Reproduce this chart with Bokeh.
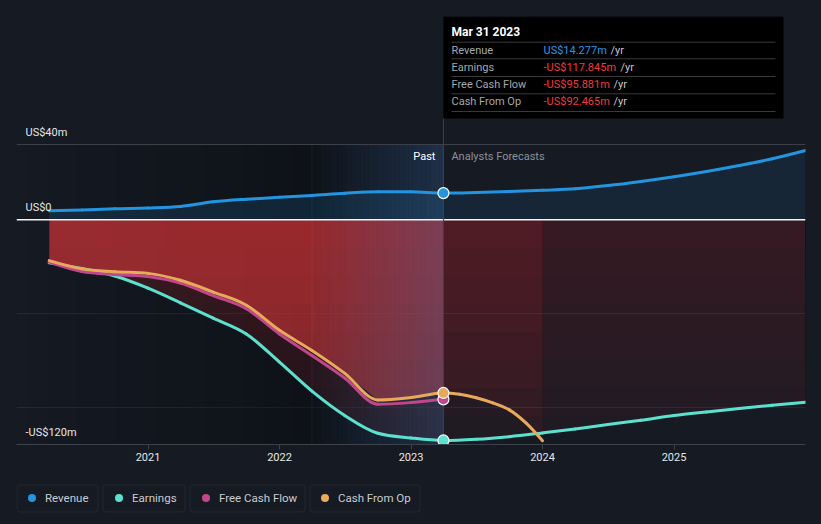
import numpy as np
import pandas as pd
from bokeh.plotting import figure
from bokeh.layouts import column
from bokeh.models import Range1d, FixedTicker, Grid, BoxAnnotation
from bokeh.core.properties import value
from bokeh.embed import file_html
from bokeh.resources import INLINE

# ---------------- data (US$ millions, trailing twelve months) ----------------
past_dates = ["2020-03-31", "2020-06-30", "2020-09-30", "2020-12-31", "2021-03-31",
              "2021-06-30", "2021-09-30", "2021-12-31", "2022-03-31", "2022-06-30",
              "2022-09-30", "2022-12-31", "2023-03-31"]
revenue_past = [4.8, 5.3, 5.9, 6.3, 7.1, 9.6, 11.0, 12.0, 13.0, 14.2, 15.0, 15.0, 14.277]
earnings_past = [-23.0, -26.0, -30.0, -36.5, -44.3, -52.5, -61.0, -76.0, -91.5, -104.5,
                 -114.0, -116.5, -117.845]
fcf_past = [-22.6, -27.6, -29.2, -30.3, -33.8, -40.5, -47.5, -61.0, -72.5, -84.5,
            -98.5, -97.6, -95.881]
cfo_past = [-21.8, -26.2, -27.7, -28.6, -32.3, -38.6, -45.6, -59.0, -69.8, -82.0,
            -96.2, -94.9, -92.465]

fc_dates = ["2023-03-31", "2023-06-30", "2023-09-30", "2023-12-31", "2024-03-31",
            "2024-06-30", "2024-09-30", "2024-12-31", "2025-03-31", "2025-06-30",
            "2025-09-30", "2025-12-31"]
revenue_fc = [14.277, 14.6, 15.1, 15.8, 16.6, 18.3, 20.5, 23.0, 25.8, 29.0, 32.6, 37.0]
earnings_fc = [-117.845, -117.2, -115.8, -113.8, -111.7, -109.3, -107.0, -104.5,
               -102.6, -100.8, -99.0, -97.4]

cfo_fc_dates = ["2023-03-31", "2023-05-15", "2023-06-30", "2023-08-15", "2023-09-30",
                "2023-11-15", "2023-12-31"]
cfo_fc = [-92.465, -93.2, -95.0, -97.8, -101.5, -108.5, -118.0]

series_names = ["Revenue", "Earnings", "Free Cash Flow", "Cash From Op"]
series_colors = ["#2394df", "#5ce1cf", "#c2468e", "#e8aa5a"]
x_tick_years = [2021, 2022, 2023, 2024, 2025]
y_label_values = [40, 0, -120]
y_label_texts = ["US$40m", "US$0", "-US$120m"]
tooltip_title = "Mar 31 2023"

# ---------------- helpers ----------------
def dec_year(dates):
    d = pd.to_datetime(pd.Series(dates))
    days = np.where(d.dt.is_leap_year, 366.0, 365.0)
    return (d.dt.year + d.dt.dayofyear / days).to_numpy()

xp = dec_year(past_dates)
xf = dec_year(fc_dates)
xc = dec_year(cfo_fc_dates)
t_now = xp[-1]
past_start = dec_year(["2022-03-31"])[0]

BG = "#151a23"
FONT = value("Roboto")
X0, X1 = 2020.0, 2026.0
Y0, Y1 = -120.0, 108.6

# page-pixel -> data helpers for layout-only decorations (frame: x 16..805, y 16..444)
def px_x(px):
    return X0 + (px - 16) * (X1 - X0) / 789.0

def px_y(py):
    return Y1 - (py - 16) * (Y1 - Y0) / 428.0

def monotone_bezier(x, y):
    """Control points of a monotone-x cubic curve through the data points."""
    x = np.asarray(x, float)
    y = np.asarray(y, float)
    h = np.diff(x)
    s = np.diff(y) / h
    m = np.zeros_like(y)
    for i in range(1, len(y) - 1):
        s0, s1 = s[i - 1], s[i]
        pp = (s0 * h[i] + s1 * h[i - 1]) / (h[i - 1] + h[i])
        m[i] = (np.sign(s0) + np.sign(s1)) * min(abs(s0), abs(s1), 0.5 * abs(pp))
    m[0] = (3 * s[0] - m[1]) / 2 if len(y) > 2 else s[0]
    m[-1] = (3 * s[-1] - m[-2]) / 2 if len(y) > 2 else s[-1]
    return dict(x0=x[:-1], y0=y[:-1], x1=x[1:], y1=y[1:],
                cx0=x[:-1] + h / 3, cy0=y[:-1] + m[:-1] * h / 3,
                cx1=x[1:] - h / 3, cy1=y[1:] - m[1:] * h / 3)

p = figure(width=805, height=470, x_range=Range1d(X0, X1), y_range=Range1d(Y0, Y1),
           output_backend="svg", toolbar_location=None, y_axis_location=None,
           min_border_left=8, min_border_right=8, min_border_top=8, min_border_bottom=34)
p.background_fill_color = BG
p.border_fill_color = BG
p.outline_line_color = None

# grids
p.xgrid.visible = False
p.ygrid.ticker = FixedTicker(ticks=[y_label_values[0]])
p.ygrid.grid_line_color = "#3b4049"
g2 = Grid(dimension=1, ticker=FixedTicker(ticks=[-50, -100]), grid_line_color="#252a32")
p.add_layout(g2)

# x axis
p.xaxis.ticker = FixedTicker(ticks=x_tick_years)
p.xaxis.axis_line_color = "#3d424a"
p.xaxis.major_tick_line_color = "#3d424a"
p.xaxis.major_tick_in = 0
p.xaxis.major_tick_out = 5
p.xaxis.minor_tick_line_color = None
p.xaxis.major_label_text_color = "#e6e6e6"
p.xaxis.major_label_text_font = "Roboto"
p.xaxis.major_label_text_font_size = "11px"
p.xaxis.major_label_standoff = 3

# darkening of the past background
n = 30
e = np.linspace(X0, past_start, n + 1)
p.quad(left=e[:-1], right=e[1:], top=y_label_values[0], bottom=Y0, fill_color="black",
       fill_alpha=list(np.linspace(0.0, 0.3, n)), line_alpha=0)
p.quad(left=[past_start], right=[t_now], top=[y_label_values[0]], bottom=[Y0],
       fill_color="black", fill_alpha=0.3, line_alpha=0)

# revenue area
p.varea(x=xp, y1=0, y2=revenue_past, fill_color=series_colors[0], fill_alpha=0.15)
p.varea(x=xf, y1=0, y2=revenue_fc, fill_color=series_colors[0], fill_alpha=0.1)

def grad_fill(x, y, color, base, each, levels=8):
    y = np.asarray(y)
    p.varea(x=x, y1=0, y2=y, fill_color=color, fill_alpha=base)
    for L in np.linspace(0, Y0, levels + 1)[1:]:
        p.varea(x=x, y1=0, y2=np.maximum(y, L), fill_color=color, fill_alpha=each)

RED = "#e23a3e"
grad_fill(xp, earnings_past, RED, 0.08, 0.02)
grad_fill(xf, earnings_fc, RED, 0.04, 0.015)
grad_fill(xc, cfo_fc, RED, 0.05, 0.015)
grad_fill(xp, cfo_past, "#d93d3f", 0.47, 0.035)

# highlight of the last past year
e2 = np.linspace(past_start, t_now, n + 1)
p.quad(left=e2[:-1], right=e2[1:], top=y_label_values[0], bottom=Y0, fill_color="#416eaa",
       fill_alpha=list(np.linspace(0.02, 0.33, n)), line_alpha=0)
p.segment(x0=[past_start], y0=[y_label_values[0]], x1=[past_start], y1=[Y0],
          line_color="#ffffff", line_alpha=0.06, line_width=1)

# zero line
p.segment(x0=[X0], y0=[0], x1=[X1], y1=[0], line_color="#f4f4f4", line_width=1.5)

# vertical marker line
p.segment(x0=[t_now], y0=[px_y(118)], x1=[t_now], y1=[Y0], line_color="#33455a", line_width=1)

# series lines (smooth monotone curves through the data points)
LW = 3
curves = [
    (np.concatenate([xp, xf[1:]]), revenue_past + revenue_fc[1:], series_colors[0]),
    (np.concatenate([xp, xf[1:]]), earnings_past + earnings_fc[1:], series_colors[1]),
    (xp, fcf_past, series_colors[2]),
    (np.concatenate([xp, xc[1:]]), cfo_past + cfo_fc[1:], series_colors[3]),
]
for cx, cy, col in curves:
    p.bezier(line_color=col, line_width=LW, line_cap="round", **monotone_bezier(cx, cy))

# markers
marker_vals = [revenue_past[-1], earnings_past[-1], fcf_past[-1], cfo_past[-1]]
p.scatter(x=[t_now] * 4, y=marker_vals, size=11, fill_color=series_colors,
          line_color="white", line_width=1.2)

# y labels
p.text(x=[X0] * 3, y=y_label_values, text=y_label_texts, x_offset=9, y_offset=-12,
       text_font=FONT, text_font_size="11px", text_color="#e6e6e6",
       text_baseline="middle", text_align="left")

# Past / Forecast labels
p.text(x=[t_now], y=[y_label_values[0]], text=["Past"], x_offset=-8, y_offset=12,
       text_font=FONT, text_font_size="11px", text_color="#ffffff",
       text_baseline="middle", text_align="right")
p.text(x=[t_now], y=[y_label_values[0]], text=["Analysts Forecasts"], x_offset=8, y_offset=12,
       text_font=FONT, text_font_size="11px", text_color="#8c9198",
       text_baseline="middle", text_align="left")

# tooltip
p.quad(left=[t_now], right=[px_x(783)], top=[px_y(16)], bottom=[px_y(118)],
       fill_color="#000000", line_alpha=0)
sep_y = [px_y(v) for v in (41.7, 58.3, 76, 93.3, 111)]
p.segment(x0=[px_x(451)] * 5, y0=sep_y, x1=[px_x(775)] * 5, y1=sep_y,
          line_color="#3a3a3a", line_width=1)
p.text(x=[px_x(451)], y=[px_y(31)], text=[tooltip_title], text_font=FONT,
       text_font_size="12px", text_font_style="bold", text_color="#ffffff",
       text_baseline="middle")
row_y = [px_y(v) for v in (49.5, 66.5, 84, 101)]
def fmt(v):
    return ("-US$" if v < 0 else "US$") + f"{abs(v):.3f}m"
val_texts = [fmt(v) for v in marker_vals]
val_colors = ["#2396ea"] + ["#ee3a3f"] * 3
p.text(x=[px_x(451)] * 4, y=row_y, text=series_names, text_font=FONT,
       text_font_size="11px", text_color="#a4a7ab", text_baseline="middle")
p.text(x=[px_x(543)] * 4, y=row_y, text=val_texts, text_font=FONT,
       text_font_size="11px", text_color=val_colors, text_baseline="middle")
yr_px = [610, 620, 613, 613]
p.text(x=[px_x(v) for v in yr_px], y=row_y, text=["/yr"] * 4, text_font=FONT,
       text_font_size="11px", text_color="#c4c6c9", text_baseline="middle")

# ---------------- legend strip (frame aligned with the main frame: page x 16..805) ----------------
lg = figure(width=805, height=38, x_range=Range1d(16, 805), y_range=Range1d(516, 478),
            output_backend="svg", toolbar_location=None, x_axis_location=None,
            y_axis_location=None, min_border_left=8, min_border_right=8,
            min_border_top=0, min_border_bottom=0)
lg.background_fill_color = BG
lg.border_fill_color = BG
lg.outline_line_color = None
lg.grid.visible = False
box_l = [16.5, 102.5, 189.5, 309.5]
box_r = [97.5, 184.5, 304.5, 419.5]
for l, r in zip(box_l, box_r):
    lg.add_layout(BoxAnnotation(left=l, right=r, top=484.5, bottom=511.5, fill_alpha=0,
                                line_color="#41464f", line_width=1, border_radius=3))
dot_x = [31.5, 118.5, 205.5, 324.5]
lg.scatter(x=dot_x, y=[497.5] * 4, size=8, fill_color=series_colors, line_alpha=0)
lg.text(x=[v + 13 for v in dot_x], y=[497.5] * 4, text=series_names, text_font=FONT,
        text_font_size="11.5px", text_color="#c9ccd0", text_baseline="middle")

layout = column(p, lg, spacing=0)
html = file_html(layout, INLINE)
html = html.replace("</head>", "<style>html,body{background:#151a23;margin:0;}body{margin:8px;}</style></head>", 1)
open("out.html", "w").write(html)
